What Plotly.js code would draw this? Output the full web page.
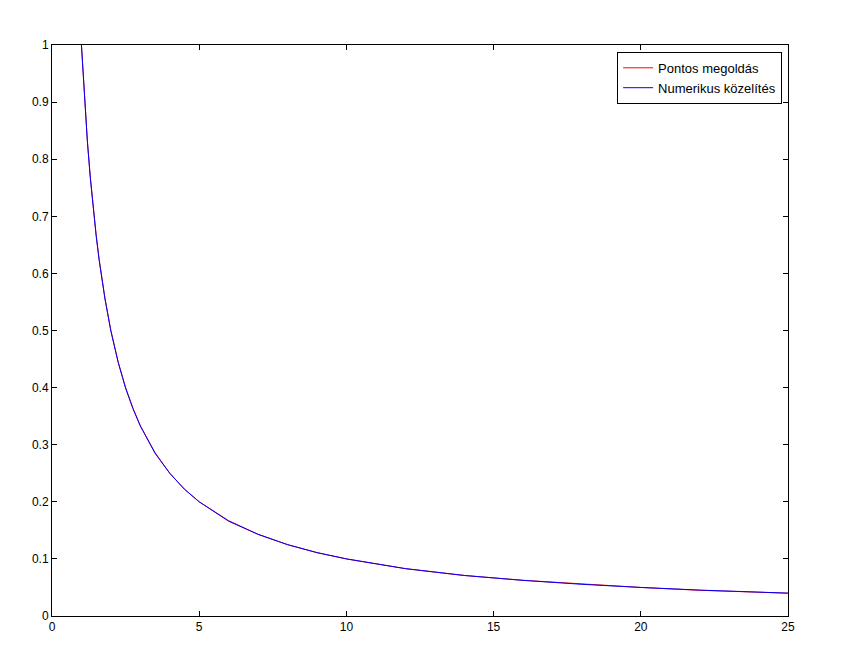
<!DOCTYPE html>
<html>
<head>
<meta charset="utf-8">
<script src="https://cdn.plot.ly/plotly-3.0.1.min.js"></script>
<style>html,body{margin:0;padding:0;background:#fff;}#chart{width:852px;height:660px;}</style>
</head>
<body>
<div id="chart"></div>
<script>
const xExact = [1, 1.1, 1.2, 1.3, 1.4, 1.5, 1.6, 1.8, 2, 2.25, 2.5, 2.75, 3, 3.5, 4, 4.5, 5, 6, 7, 8, 9, 10, 12, 14, 16, 18, 20, 22, 25];
const yExact = [1, 0.909, 0.833, 0.769, 0.714, 0.667, 0.625, 0.556, 0.5, 0.444, 0.4, 0.364, 0.333, 0.286, 0.25, 0.222, 0.2, 0.167, 0.143, 0.125, 0.111, 0.1, 0.083, 0.071, 0.0625, 0.056, 0.05, 0.045, 0.04];
const xNum = [1, 1.1, 1.2, 1.3, 1.4, 1.5, 1.6, 1.8, 2, 2.25, 2.5, 2.75, 3, 3.5, 4, 4.5, 5, 6, 7, 8, 9, 10, 12, 14, 16, 18, 20, 22, 25];
const yNum = [1, 0.908, 0.832, 0.768, 0.713, 0.666, 0.624, 0.555, 0.499, 0.444, 0.399, 0.363, 0.333, 0.285, 0.25, 0.222, 0.2, 0.166, 0.143, 0.125, 0.111, 0.1, 0.083, 0.071, 0.0624, 0.0555, 0.05, 0.0454, 0.04];
const seriesNames = ["Pontos megoldás", "Numerikus közelítés"];

const traces = [
  {x: xExact, y: yExact, name: seriesNames[0], mode: "lines", line: {color: "#ff0000", width: 1}},
  {x: xNum, y: yNum, name: seriesNames[1], mode: "lines", line: {color: "#0000ff", width: 1}}
];
const axisCommon = {
  showgrid: false, zeroline: false, showline: true, linecolor: "#000", linewidth: 1,
  mirror: "allticks", ticks: "inside", ticklen: 5, tickcolor: "#000",
  tickfont: {family: "Liberation Sans, Arial, sans-serif", size: 12, color: "#000"}
};
const layout = {
  width: 852, height: 660,
  margin: {l: 52, r: 64, t: 45, b: 44},
  paper_bgcolor: "#fff", plot_bgcolor: "#fff",
  showlegend: true,
  xaxis: Object.assign({}, axisCommon, {range: [0, 25], tickvals: [0, 5, 10, 15, 20, 25], ticktext: ["0","5","10","15","20","25"]}),
  yaxis: Object.assign({}, axisCommon, {range: [0, 1], tickvals: [0,0.1,0.2,0.3,0.4,0.5,0.6,0.7,0.8,0.9,1], ticktext: ["0","0.1","0.2","0.3","0.4","0.5","0.6","0.7","0.8","0.9","1"]}),
  legend: {x: 0.992, y: 0.988, xanchor: "right", yanchor: "top", bordercolor: "#000", borderwidth: 1, bgcolor: "#fff",
    font: {family: "Liberation Sans, Arial, sans-serif", size: 13, color: "#000"}, tracegroupgap: 0}
};
Plotly.newPlot("chart", traces, layout, {displayModeBar: false, staticPlot: true});
</script>
</body>
</html>
